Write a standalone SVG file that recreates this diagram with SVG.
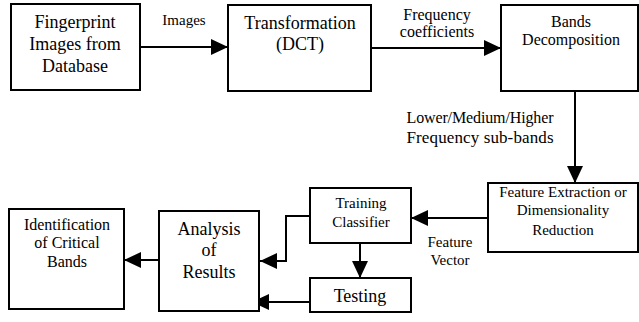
<svg xmlns="http://www.w3.org/2000/svg" width="639" height="322" viewBox="0 0 639 322">
  <style>
    .box { fill: #ffffff; stroke: #000000; stroke-width: 2; }
    .wire { fill: none; stroke: #000000; stroke-width: 2; marker-end: url(#head); }
    text { fill: #000000; text-anchor: middle; font-family: 'Liberation Serif', 'Times New Roman', serif; }
    .t18 { font-size: 18px; }
    .t17 { font-size: 17px; }
    .t16 { font-size: 16px; }
    .t15 { font-size: 15px; }
  </style>
  <defs>
    <marker id="head" markerUnits="userSpaceOnUse" markerWidth="17" markerHeight="16" refX="17" refY="8" orient="auto">
      <path d="M0,0 L17,8 L0,16 Z" fill="#000000"/>
    </marker>
  </defs>
  <rect width="639" height="322" fill="#ffffff"/>

  <g id="connectors">
    <path class="wire" d="M140,47 H228"/>
    <path class="wire" d="M371,48 H501"/>
    <path class="wire" d="M575,91 V183"/>
    <path class="wire" d="M488,218 H411"/>
    <path class="wire" d="M360,243 V278"/>
    <path class="wire" d="M310,216 H286 V261 H260"/>
    <path class="wire" d="M310,302 H252"/>
    <path class="wire" d="M159,260 H124"/>
    <text class="t15" x="184" y="25">Images</text>
    <text class="t16" x="437" y="20">Frequency</text>
    <text class="t16" x="437" y="37">coefficients</text>
    <text class="t16" x="480" y="123" textLength="147" lengthAdjust="spacing">Lower/Medium/Higher</text>
    <text class="t17" x="480" y="143" textLength="147" lengthAdjust="spacing">Frequency sub-bands</text>
    <text class="t15" x="450" y="247">Feature</text>
    <text class="t15" x="450" y="265">Vector</text>
  </g>

  <g id="fingerprint-images">
    <rect class="box" x="11" y="4" width="129" height="86"/>
    <text class="t18" x="75" y="28">Fingerprint</text>
    <text class="t18" x="75" y="50">Images from</text>
    <text class="t18" x="75" y="72">Database</text>
  </g>

  <g id="transformation">
    <rect class="box" x="228" y="5" width="143" height="86"/>
    <text class="t18" x="300" y="29">Transformation</text>
    <text class="t18" x="300" y="50">(DCT)</text>
  </g>

  <g id="bands-decomposition">
    <rect class="box" x="501" y="5" width="137" height="86"/>
    <text class="t16" x="571" y="27">Bands</text>
    <text class="t16" x="571" y="45">Decomposition</text>
  </g>

  <g id="feature-extraction">
    <rect class="box" x="488" y="183" width="150" height="69"/>
    <text class="t15" x="563" y="197">Feature Extraction or</text>
    <text class="t15" x="563" y="215">Dimensionality</text>
    <text class="t15" x="563" y="235">Reduction</text>
  </g>

  <g id="training-classifier">
    <rect class="box" x="310" y="188" width="101" height="55"/>
    <text class="t15" x="361" y="208">Training</text>
    <text class="t15" x="361" y="227">Classifier</text>
  </g>

  <g id="testing">
    <rect class="box" x="310" y="278" width="101" height="34"/>
    <text class="t18" x="360" y="302">Testing</text>
  </g>

  <g id="analysis-of-results">
    <rect class="box" x="159" y="211" width="100" height="100"/>
    <text class="t18" x="209" y="235">Analysis</text>
    <text class="t18" x="209" y="256">of</text>
    <text class="t18" x="209" y="278">Results</text>
  </g>

  <g id="identification">
    <rect class="box" x="9" y="209" width="115" height="100"/>
    <text class="t16" x="67" y="230">Identification</text>
    <text class="t16" x="67" y="248">of Critical</text>
    <text class="t16" x="67" y="267">Bands</text>
  </g>
</svg>
